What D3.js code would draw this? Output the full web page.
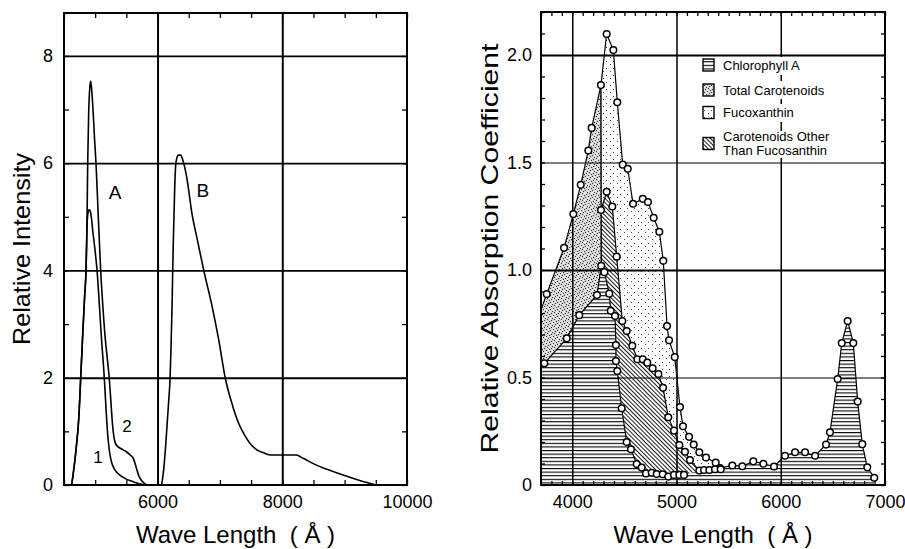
<!DOCTYPE html>
<html>
<head>
<meta charset="utf-8">
<script src="https://cdn.jsdelivr.net/npm/d3@7"></script>
<style>
  html, body { margin: 0; padding: 0; background: #fff; }
  svg { display: block; font-family: "Liberation Sans", Arial, Helvetica, sans-serif; }
  .pre { white-space: pre; }
</style>
</head>
<body>
<div id="chart"></div>
<script>
// ---- left panel: emission spectra (relative intensity) ----
const curve1X = [4623, 4690, 4740, 4768, 4800, 4830, 4853, 4868, 4885, 4900, 4915, 4935, 4960, 5000, 5030, 5065, 5100, 5146, 5175, 5200, 5230, 5264, 5317, 5400, 5500, 5611, 5720, 5824]
const curve1Y = [0, 0.63, 1.3, 2.0, 2.8, 3.5, 4.0, 4.8, 5.08, 5.13, 5.12, 5.02, 4.75, 4.35, 4.0, 3.4, 2.75, 2.0, 1.4, 0.95, 0.62, 0.42, 0.28, 0.18, 0.11, 0.06, 0.02, 0]
const curve2X = [4623, 4690, 4740, 4768, 4800, 4830, 4853, 4868, 4880, 4895, 4910, 4928, 4945, 4970, 4990, 5013, 5050, 5088, 5125, 5160, 5195, 5225, 5255, 5280, 5300, 5320, 5360, 5410, 5500, 5570, 5610, 5640, 5670, 5700, 5740, 5790, 5830]
const curve2Y = [0, 0.63, 1.3, 2.0, 2.8, 3.5, 4.0, 4.8, 6.0, 6.9, 7.35, 7.53, 7.35, 6.9, 6.45, 6.0, 5.0, 4.0, 3.3, 2.75, 2.35, 2.0, 1.5, 1.1, 0.9, 0.79, 0.72, 0.68, 0.62, 0.55, 0.5, 0.4, 0.28, 0.17, 0.09, 0.03, 0]
const curveBX = [6065, 6100, 6140, 6175, 6201, 6212, 6233, 6243, 6254, 6275, 6290, 6310, 6335, 6370, 6400, 6430, 6466, 6556, 6635, 6741, 6873, 6979, 7085, 7206, 7290, 7376, 7480, 7587, 7700, 7799, 7900, 8011, 8222, 8300, 8381, 8540, 8751, 8963, 9228, 9500]
const curveBY = [0, 0.3, 0.9, 1.5, 2.0, 2.4, 3.34, 4.0, 4.59, 5.53, 5.95, 6.1, 6.15, 6.15, 6.08, 5.95, 5.75, 5.03, 4.59, 4.0, 3.34, 2.72, 2.0, 1.47, 1.18, 0.97, 0.78, 0.66, 0.6, 0.56, 0.56, 0.56, 0.56, 0.52, 0.47, 0.375, 0.28, 0.19, 0.09, 0]
const leftLabels = ['A', 'B', '1', '2']
const leftLabelX = [5318, 6728, 5045, 5510]
const leftLabelY = [5.46, 5.5, 0.53, 1.1]
const leftXLabels = [6000, 8000, 10000]
const leftYLabels = [0, 2, 4, 6, 8]

// ---- right panel: absorption of pigments ----
const totalX = [3650, 3755, 3921, 4010, 4081, 4154, 4186, 4275, 4330, 4394, 4432, 4484, 4532, 4583, 4676, 4726, 4781, 4835, 4873, 4909, 4928, 4983, 5033, 5062, 5120, 5165, 5219, 5283, 5376, 5417, 5535, 5631, 5737, 5833, 5935, 6041, 6137, 6233, 6329, 6434, 6472, 6546, 6585, 6642, 6696, 6738, 6782, 6830, 6897]
const totalY = [0.75, 0.888, 1.103, 1.26, 1.396, 1.556, 1.661, 1.86, 2.098, 2.023, 1.78, 1.49, 1.471, 1.308, 1.331, 1.316, 1.243, 1.178, 1.043, 0.739, 0.673, 0.595, 0.363, 0.273, 0.224, 0.188, 0.152, 0.128, 0.104, 0.079, 0.091, 0.087, 0.11, 0.099, 0.086, 0.136, 0.152, 0.152, 0.136, 0.188, 0.245, 0.493, 0.66, 0.763, 0.66, 0.388, 0.19, 0.082, 0.034]
const chlX = [3650, 3732, 3947, 4067, 4237, 4278, 4308, 4355, 4369, 4410, 4419, 4419, 4432, 4474, 4522, 4563, 4618, 4666, 4707, 4762, 4810, 4867, 4921, 4976, 5027, 5072]
const chlY = [0.522, 0.566, 0.682, 0.79, 0.884, 1.02, 0.99, 0.89, 0.81, 0.786, 0.651, 0.577, 0.53, 0.357, 0.2, 0.166, 0.098, 0.081, 0.054, 0.057, 0.051, 0.05, 0.039, 0.047, 0.047, 0.047]
const otherX = [4276, 4330, 4384, 4426, 4480, 4522, 4576, 4624, 4676, 4720, 4771, 4826, 4871, 4921, 4976, 5027, 5081, 5129, 5219, 5264, 5315, 5369, 5424]
const otherY = [1.279, 1.364, 1.295, 1.062, 0.763, 0.716, 0.648, 0.585, 0.585, 0.569, 0.543, 0.516, 0.452, 0.315, 0.253, 0.186, 0.155, 0.116, 0.067, 0.07, 0.07, 0.073, 0.073]
const legendNames = [['Chlorophyll A'], ['Total Carotenoids'], ['Fucoxanthin'], ['Carotenoids Other', 'Than Fucosanthin']]
const legendFills = ['hatchH', 'dotsDense', 'dotsSparse', 'hatchD']
const rightXLabels = [4000, 5000, 6000, 7000]
const rightYLabels = [0, 0.5, 1.0, 1.5, 2.0]

const W = 905, H = 549
const font = '"Liberation Sans", Arial, Helvetica, sans-serif'
const svg = d3.select('#chart').append('svg').attr('width', W).attr('height', H)
svg.append('rect').attr('width', W).attr('height', H).attr('fill', '#fff')

// fill patterns
const defs = svg.append('defs')
const pH = defs.append('pattern').attr('id', 'hatchH').attr('patternUnits', 'userSpaceOnUse')
  .attr('width', 6).attr('height', 3.6)
pH.append('rect').attr('width', 6).attr('height', 3.6).attr('fill', '#fff')
pH.append('rect').attr('width', 6).attr('height', 1.1).attr('fill', '#000')

// fine grey grain for the total carotenoids
const pD = defs.append('pattern').attr('id', 'dotsDense').attr('patternUnits', 'userSpaceOnUse')
  .attr('width', 7).attr('height', 7)
pD.append('rect').attr('width', 7).attr('height', 7).attr('fill', '#d4d4d4')
;[[0, 0], [4, 1], [2, 2], [6, 3], [1, 4], [5, 5], [3, 6]].forEach(p =>
  pD.append('rect').attr('x', p[0]).attr('y', p[1]).attr('width', 1).attr('height', 1).attr('fill', '#333'))
;[[2, 0], [6, 1], [0, 2], [4, 3], [3, 4], [0, 6]].forEach(p =>
  pD.append('rect').attr('x', p[0]).attr('y', p[1]).attr('width', 1).attr('height', 1).attr('fill', '#fff'))

const pS = defs.append('pattern').attr('id', 'dotsSparse').attr('patternUnits', 'userSpaceOnUse')
  .attr('width', 7).attr('height', 7)
pS.append('rect').attr('width', 7).attr('height', 7).attr('fill', '#fff')
;[[1, 1], [4, 5]].forEach(p =>
  pS.append('rect').attr('x', p[0]).attr('y', p[1]).attr('width', 1).attr('height', 1).attr('fill', '#444'))

const pDg = defs.append('pattern').attr('id', 'hatchD').attr('patternUnits', 'userSpaceOnUse')
  .attr('width', 6).attr('height', 3).attr('patternTransform', 'rotate(45)')
pDg.append('rect').attr('width', 6).attr('height', 3).attr('fill', '#fff')
pDg.append('rect').attr('width', 6).attr('height', 0.9).attr('fill', '#000')

// shared frame: grid, inward ticks, labels
function drawFrame (g, x, y, o) {
  const [x0, x1] = x.range()
  const [y0, y1] = y.range()
  const clean = s => s.select('.domain').remove()

  g.append('g').attr('transform', `translate(0,${y0})`)
    .call(d3.axisBottom(x).tickValues(o.xGrid).tickSize(-(y0 - y1)).tickFormat(''))
    .call(clean)
    .selectAll('line').attr('stroke', '#000').attr('stroke-width', o.xGridW)
  g.append('g').attr('transform', `translate(${x0},0)`)
    .call(d3.axisLeft(y).tickValues(o.yGrid).tickSize(-(x1 - x0)).tickFormat(''))
    .call(clean)
    .selectAll('line').attr('stroke', '#000').attr('stroke-width', o.yGridW)

  const minor = [
    [d3.axisBottom(x).tickValues(o.xMinor), `translate(0,${y0})`],
    [d3.axisTop(x).tickValues(o.xMinor), `translate(0,${y1})`],
    [d3.axisLeft(y).tickValues(o.yMinor), `translate(${x0},0)`],
    [d3.axisRight(y).tickValues(o.yMinor), `translate(${x1},0)`]
  ]
  minor.forEach(([axis, tr]) => {
    g.append('g').attr('transform', tr)
      .call(axis.tickSize(-o.tick).tickFormat(''))
      .call(clean)
      .selectAll('line').attr('stroke', '#000').attr('stroke-width', 1.3)
  })

  g.append('rect').attr('x', x0).attr('y', y1).attr('width', x1 - x0).attr('height', y0 - y1)
    .attr('fill', 'none').attr('stroke', '#000').attr('stroke-width', 2)

  g.append('g').attr('transform', `translate(0,${y0})`)
    .call(d3.axisBottom(x).tickValues(o.xLabels).tickSize(0).tickPadding(10).tickFormat(d3.format('d')))
    .call(clean)
    .attr('font-size', 18).attr('font-family', font)
    .selectAll('text').attr('fill', '#000')
  g.append('g').attr('transform', `translate(${x0},0)`)
    .call(d3.axisLeft(y).tickValues(o.yLabels).tickSize(0).tickPadding(o.yPad).tickFormat(o.yFormat))
    .call(clean)
    .attr('font-size', 18).attr('font-family', font)
    .selectAll('text').attr('fill', '#000')

  g.append('text').attr('class', 'pre')
    .attr('x', (x0 + x1) / 2).attr('y', 543).attr('text-anchor', 'middle')
    .attr('font-size', 24).text('Wave Length  ( Å )')
  g.append('text')
    .attr('transform', `translate(${o.titleX},${(y0 + y1) / 2}) rotate(-90)`)
    .attr('text-anchor', 'middle').attr('font-size', 24)
    .attr('textLength', o.titleLen).attr('lengthAdjust', 'spacingAndGlyphs')
    .text(o.title)
}

// ---- left panel ----
const lx = d3.scaleLinear().domain([4500, 10000]).range([64, 407])
const ly = d3.scaleLinear().domain([0, 8.8]).range([485, 13])
const left = svg.append('g')

drawFrame(left, lx, ly, {
  xGrid: [6000, 8000], yGrid: [2, 4, 6, 8], xGridW: 2, yGridW: 1.8,
  xMinor: d3.range(4500, 10001, 500), yMinor: d3.range(0, 9, 1), tick: 5,
  xLabels: leftXLabels, yLabels: leftYLabels, yPad: 11, yFormat: d3.format('d'),
  title: 'Relative Intensity', titleX: 30, titleLen: 192
})

const lLine = d3.line().x(d => lx(d[0])).y(d => ly(d[1])).curve(d3.curveMonotoneX)
;[[curve1X, curve1Y], [curve2X, curve2Y], [curveBX, curveBY]].forEach(([xs, ys]) => {
  left.append('path').attr('d', lLine(d3.zip(xs, ys)))
    .attr('fill', 'none').attr('stroke', '#000').attr('stroke-width', 1.6)
})

left.selectAll('text.lab').data(leftLabels).join('text').attr('class', 'lab')
  .attr('x', (d, i) => lx(leftLabelX[i])).attr('y', (d, i) => ly(leftLabelY[i]))
  .attr('dy', '0.36em').attr('text-anchor', 'middle')
  .attr('font-size', (d, i) => i < 2 ? 19 : 17).text(d => d)

// ---- right panel ----
const rx = d3.scaleLinear().domain([3700, 7000]).range([541, 885])
const ry = d3.scaleLinear().domain([0, 2.2]).range([485, 12])
const right = svg.append('g')

defs.append('clipPath').attr('id', 'rclip').append('rect')
  .attr('x', 541).attr('y', 12).attr('width', 344).attr('height', 473)

const total = d3.zip(totalX, totalY)
const chl = d3.zip(chlX, chlY)
const other = d3.zip(otherX, otherY)
const split = 4275

// region boundaries built from the series
const chlEdge = chl.concat(other.filter(d => d[0] > 5150), total.filter(d => d[0] > 5430))
const denseReg = total.filter(d => d[0] <= split).concat(chl.filter(d => d[0] <= split + 5).reverse())
const sparseReg = total.filter(d => d[0] >= split && d[0] <= 5420).concat(other.slice().reverse())
const diagReg = other.filter(d => d[0] <= 5220).concat(chl.filter(d => d[0] > split).reverse())

const fills = right.append('g').attr('clip-path', 'url(#rclip)')
const area = d3.area().x(d => rx(d[0])).y0(ry(0)).y1(d => ry(d[1]))
const poly = d3.line().x(d => rx(d[0])).y(d => ry(d[1]))
fills.append('path').attr('d', area(chlEdge)).attr('fill', 'url(#hatchH)')
fills.append('path').attr('d', poly(denseReg) + 'Z').attr('fill', 'url(#dotsDense)')
fills.append('path').attr('d', poly(sparseReg) + 'Z').attr('fill', 'url(#dotsSparse)')
fills.append('path').attr('d', poly(diagReg) + 'Z').attr('fill', 'url(#hatchD)')

drawFrame(right, rx, ry, {
  xGrid: [4000, 5000, 6000], yGrid: [0.5, 1.0, 1.5, 2.0], xGridW: 1.5,
  yGridW: d => (d === 1 || d === 2) ? 2.2 : 1.1,
  xMinor: d3.range(3700, 7001, 100), yMinor: d3.range(0, 2.25, 0.1), tick: 4,
  xLabels: rightXLabels, yLabels: rightYLabels, yPad: 9,
  yFormat: d => d === 0 ? '0' : d3.format('.1f')(d),
  title: 'Relative Absorption Coefficient', titleX: 498, titleLen: 410
})

const marks = right.append('g').attr('clip-path', 'url(#rclip)')
;[total, chl, other].forEach(s => {
  marks.append('path').attr('d', poly(s)).attr('fill', 'none')
    .attr('stroke', '#000').attr('stroke-width', 1.2)
})
// divider between total carotenoids and the fucoxanthin / other regions
marks.append('path')
  .attr('d', poly([total.find(d => d[0] === split), chl.find(d => d[0] > split)]))
  .attr('stroke', '#000').attr('stroke-width', 1.4)
;[total, chl, other].forEach(s => {
  marks.selectAll(null).data(s).join('circle')
    .attr('cx', d => rx(d[0])).attr('cy', d => ry(d[1])).attr('r', 3.3)
    .attr('fill', '#fff').attr('stroke', '#000').attr('stroke-width', 1.5)
})

// legend: white backing per row, the 6000 gridline shows between rows
const legendRowY = [65, 90, 112.5, 143.5]
const legendBack = [[57, 75], [81, 99], [104, 122], [131, 158]]
const lg = right.append('g').attr('font-size', 13)
legendNames.forEach((lines, i) => {
  const cy = legendRowY[i]
  lg.append('rect').attr('x', 700).attr('y', legendBack[i][0]).attr('width', 150)
    .attr('height', legendBack[i][1] - legendBack[i][0]).attr('fill', '#fff')
  lg.append('rect').attr('x', 703).attr('y', cy - 6).attr('width', 11).attr('height', 12)
    .attr('fill', `url(#${legendFills[i]})`).attr('stroke', '#000').attr('stroke-width', 1.4)
  lines.forEach((t, j) => {
    lg.append('text').attr('x', 723).attr('y', cy + (j - (lines.length - 1) / 2) * 14.5)
      .attr('dy', '0.35em').text(t)
  })
})
</script>
</body>
</html>
